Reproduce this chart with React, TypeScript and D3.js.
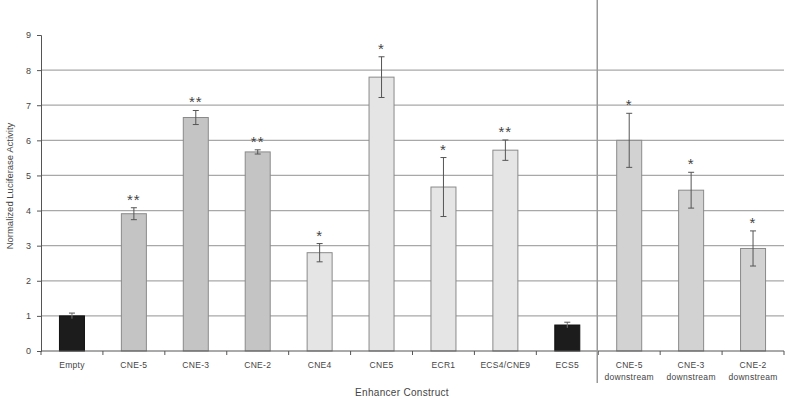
import React, { useRef, useEffect } from "react"
import * as d3 from "d3"

const labels = ["Empty", "CNE-5", "CNE-3", "CNE-2", "CNE4", "CNE5", "ECR1", "ECS4/CNE9", "ECS5", "CNE-5\ndownstream", "CNE-3\ndownstream", "CNE-2\ndownstream"]
const values = [1.0, 3.91, 6.65, 5.67, 2.8, 7.8, 4.67, 5.72, 0.74, 6.0, 4.58, 2.92]
const errors = [0.08, 0.17, 0.2, 0.06, 0.26, 0.58, 0.84, 0.29, 0.08, 0.77, 0.51, 0.5]
const stars = ["", "**", "**", "**", "*", "*", "*", "**", "", "*", "*", "*"]
const groups = ["ctrl", "mid", "mid", "mid", "light", "light", "light", "light", "ctrl", "down", "down", "down"]
const yTicks = [0, 1, 2, 3, 4, 5, 6, 7, 8, 9]

const fills: Record<string, string> = { ctrl: "#1c1c1c", mid: "#c4c4c4", light: "#e5e5e5", down: "#d2d2d2" }

const App = () => {
    const ref = useRef<SVGSVGElement>(null)
    const width = 787, height = 401
    const left = 41, right = 784, top = 35, bottom = 351

    useEffect(() => {
        const svg = d3.select(ref.current)
        svg.selectAll("*").remove()

        const x = d3.scaleBand().domain(labels).range([left, right]).paddingInner(0).paddingOuter(0)
        const y = d3.scaleLinear().domain([0, 9]).range([bottom, top])
        const font = "Arial, 'Liberation Sans', sans-serif"

        // gridlines
        svg.append("g").selectAll("line").data(yTicks.filter(t => t > 0 && t < 9)).enter().append("line")
            .attr("x1", left).attr("x2", right)
            .attr("y1", d => y(d)).attr("y2", d => y(d))
            .attr("stroke", "#a8a8a8").attr("stroke-width", 1.2)

        // y axis
        const yAxis = svg.append("g").attr("transform", `translate(${left},0)`)
            .call(d3.axisLeft(y).tickValues(yTicks).tickSize(4).tickPadding(6))
        yAxis.select(".domain").attr("stroke", "#555")
        yAxis.selectAll(".tick line").attr("stroke", "#555")
        yAxis.selectAll("text").attr("font-size", 9).attr("fill", "#444").attr("font-family", font)

        // bars
        const bw = 25
        const bars = svg.append("g").selectAll("g").data(labels).enter().append("g")
        bars.append("rect")
            .attr("x", d => x(d)! + x.bandwidth() / 2 - bw / 2)
            .attr("width", bw)
            .attr("y", (d, i) => y(values[i]))
            .attr("height", (d, i) => y(0) - y(values[i]))
            .attr("fill", (d, i) => fills[groups[i]])
            .attr("stroke", (d, i) => groups[i] === "ctrl" ? "#111" : "#8a8a8a")
            .attr("stroke-width", 1)

        // error bars
        const cx = (d: string) => x(d)! + x.bandwidth() / 2
        bars.append("line")
            .attr("x1", cx).attr("x2", cx)
            .attr("y1", (d, i) => y(values[i] + errors[i]))
            .attr("y2", (d, i) => y(values[i] - errors[i]))
            .attr("stroke", (d, i) => groups[i] === "ctrl" ? "#777" : "#555").attr("stroke-width", 1)
        ;[1, -1].forEach(s => {
            bars.append("line")
                .attr("x1", d => cx(d) - 3).attr("x2", d => cx(d) + 3)
                .attr("y1", (d, i) => y(values[i] + s * errors[i]))
                .attr("y2", (d, i) => y(values[i] + s * errors[i]))
                .attr("stroke", "#555").attr("stroke-width", 1)
                .attr("visibility", (d, i) => s < 0 && groups[i] === "ctrl" ? "hidden" : "visible")
        })

        // significance stars
        bars.append("text")
            .attr("x", cx)
            .attr("y", (d, i) => y(values[i] + errors[i]) - 3)
            .attr("text-anchor", "middle")
            .attr("font-size", 15).attr("fill", "#444").attr("font-family", font)
            .attr("letter-spacing", 1)
            .text((d, i) => stars[i])

        // x axis
        const xAxis = svg.append("g").attr("transform", `translate(0,${bottom})`)
        xAxis.append("line").attr("x1", left).attr("x2", right).attr("stroke", "#555")
        const edges = labels.map(l => x(l)!).concat([right])
        xAxis.selectAll("line.t").data(edges).enter().append("line")
            .attr("x1", d => d).attr("x2", d => d).attr("y1", 0).attr("y2", 4).attr("stroke", "#555")
        xAxis.selectAll("text.l").data(labels).enter().append("text")
            .attr("text-anchor", "middle").attr("font-size", 8.5).attr("fill", "#444").attr("font-family", font)
            .attr("letter-spacing", 0.3)
            .each(function (d) {
                const t = d3.select(this)
                d.split("\n").forEach((line, k) => {
                    t.append("tspan").attr("x", cx(d)).attr("y", 17 + k * 12).text(line)
                })
            })

        // separator line
        svg.append("line")
            .attr("x1", x(labels[9])! - 1).attr("x2", x(labels[9])! - 1)
            .attr("y1", 0).attr("y2", 383)
            .attr("stroke", "#999").attr("stroke-width", 1.5)

        // titles
        svg.append("text")
            .attr("transform", `translate(13,186) rotate(-90)`)
            .attr("text-anchor", "middle").attr("font-size", 9.5).attr("fill", "#444").attr("font-family", font)
            .text("Normalized Luciferase Activity")
        svg.append("text")
            .attr("x", 402).attr("y", 396)
            .attr("text-anchor", "middle").attr("font-size", 10).attr("fill", "#444").attr("font-family", font)
            .attr("letter-spacing", 0.3)
            .text("Enhancer Construct")
    }, [])

    return (
        <svg ref={ref} width={width} height={height} style={{ position: "absolute", left: 0, top: 0, background: "#fff" }} />
    )
}

export default App
